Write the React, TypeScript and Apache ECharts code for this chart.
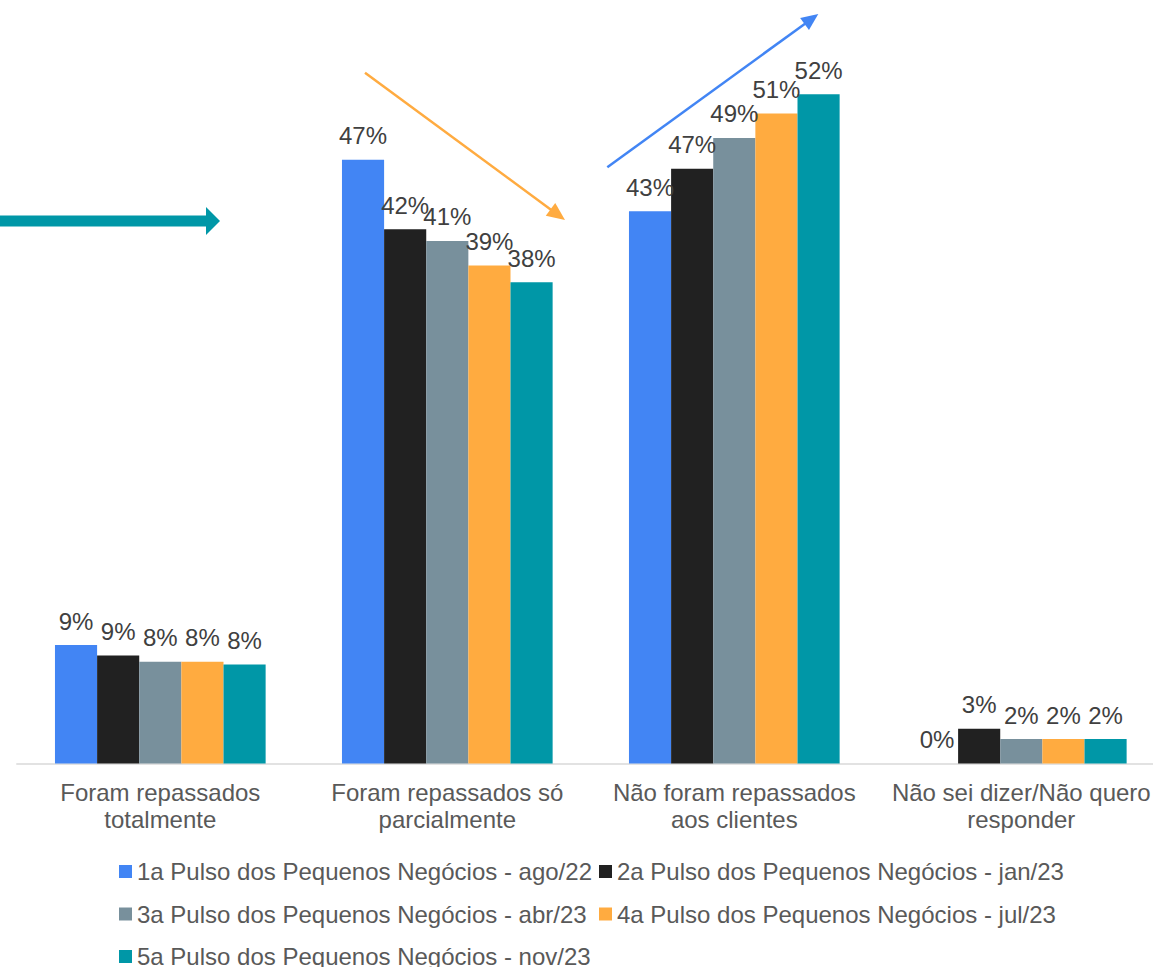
import React, { useEffect, useRef } from "react";
import * as echarts from "echarts";

const categories = [
  "Foram repassados\ntotalmente",
  "Foram repassados só\nparcialmente",
  "Não foram repassados\naos clientes",
  "Não sei dizer/Não quero\nresponder",
];

const seriesNames = [
  "1a Pulso dos Pequenos Negócios - ago/22",
  "2a Pulso dos Pequenos Negócios - jan/23",
  "3a Pulso dos Pequenos Negócios - abr/23",
  "4a Pulso dos Pequenos Negócios - jul/23",
  "5a Pulso dos Pequenos Negócios - nov/23",
];

// bar heights as drawn (percent)
const pulso1 = [9.2, 46.9, 42.9, 0];
const pulso2 = [8.4, 41.5, 46.2, 2.7];
const pulso3 = [7.9, 40.6, 48.6, 1.9];
const pulso4 = [7.9, 38.7, 50.5, 1.9];
const pulso5 = [7.7, 37.4, 52.0, 1.9];

// data labels as printed (percent)
const labels1 = [9, 47, 43, 0];
const labels2 = [9, 42, 47, 3];
const labels3 = [8, 41, 49, 2];
const labels4 = [8, 39, 51, 2];
const labels5 = [8, 38, 52, 2];

const colors = ["#4285F4", "#212121", "#78909C", "#FFAB40", "#0097A7"];

const FONT = "'Liberation Sans', Arial, sans-serif";

function arrow(
  sx: number,
  sy: number,
  tx: number,
  ty: number,
  color: string,
  lw: number,
  headLen: number,
  headW: number
) {
  const dx = tx - sx;
  const dy = ty - sy;
  const len = Math.sqrt(dx * dx + dy * dy);
  const ux = dx / len;
  const uy = dy / len;
  const nx = -uy;
  const ny = ux;
  const bx = tx - ux * headLen;
  const by = ty - uy * headLen;
  return [
    {
      type: "line",
      shape: { x1: sx, y1: sy, x2: bx + ux * 1, y2: by + uy * 1 },
      style: { stroke: color, lineWidth: lw },
      silent: true,
    },
    {
      type: "polygon",
      shape: {
        points: [
          [tx, ty],
          [bx + (nx * headW) / 2, by + (ny * headW) / 2],
          [bx - (nx * headW) / 2, by - (ny * headW) / 2],
        ],
      },
      style: { fill: color },
      silent: true,
    },
  ];
}

export default function App() {
  const ref = useRef<HTMLDivElement>(null);

  useEffect(() => {
    if (!ref.current) return;
    const chart = echarts.init(ref.current, undefined, { renderer: "svg" });
    const values = [pulso1, pulso2, pulso3, pulso4, pulso5];
    const labels = [labels1, labels2, labels3, labels4, labels5];

    const legendCommon = {
      orient: "vertical",
      top: 859.5,
      height: 130,
      padding: 0,
      itemWidth: 13,
      itemHeight: 13,
      itemGap: 18.5,
      icon: "rect",
      textStyle: { fontSize: 24, color: "#595959", fontFamily: FONT },
    };

    chart.setOption({
      animation: false,
      textStyle: { fontFamily: FONT },
      grid: { left: 16.8, top: 55.6, width: 1148, height: 707.9, containLabel: false },
      xAxis: {
        type: "category",
        data: categories,
        axisTick: { show: false },
        axisLine: { lineStyle: { color: "#D9D9D9", width: 1.5 } },
        axisLabel: {
          interval: 0,
          fontSize: 24,
          color: "#595959",
          lineHeight: 27,
          margin: 15,
          fontFamily: FONT,
        },
      },
      yAxis: {
        type: "value",
        min: 0,
        max: 55,
        show: false,
        splitLine: { show: false },
      },
      legend: [
        {
          ...legendCommon,
          data: [seriesNames[0], seriesNames[2], seriesNames[4]],
          left: 119,
        },
        {
          ...legendCommon,
          data: [seriesNames[1], seriesNames[3]],
          left: 599,
        },
      ],
      series: values.map((v, i) => ({
        name: seriesNames[i],
        type: "bar",
        data: v,
        barGap: "0%",
        barCategoryGap: "26.6%",
        itemStyle: { color: colors[i] },
        label: {
          show: true,
          position: "top",
          distance: 12,
          fontSize: 24,
          color: "#404040",
          fontFamily: FONT,
          formatter: (p: any) => labels[i][p.dataIndex] + "%",
        },
      })),
      graphic: [
        ...arrow(0, 221, 220, 221, "#0097A7", 11, 14, 28),
        ...arrow(365, 72.7, 565, 220, "#FFAB40", 2.5, 18, 16),
        ...arrow(607.3, 167.3, 818.3, 14, "#4285F4", 2.5, 17, 15),
      ],
    });

    return () => chart.dispose();
  }, []);

  return (
    <div
      style={{
        position: "absolute",
        left: 0,
        top: 0,
        width: 1153,
        height: 967,
        overflow: "hidden",
      }}
    >
      <div ref={ref} style={{ width: 1180, height: 967 }} />
    </div>
  );
}
